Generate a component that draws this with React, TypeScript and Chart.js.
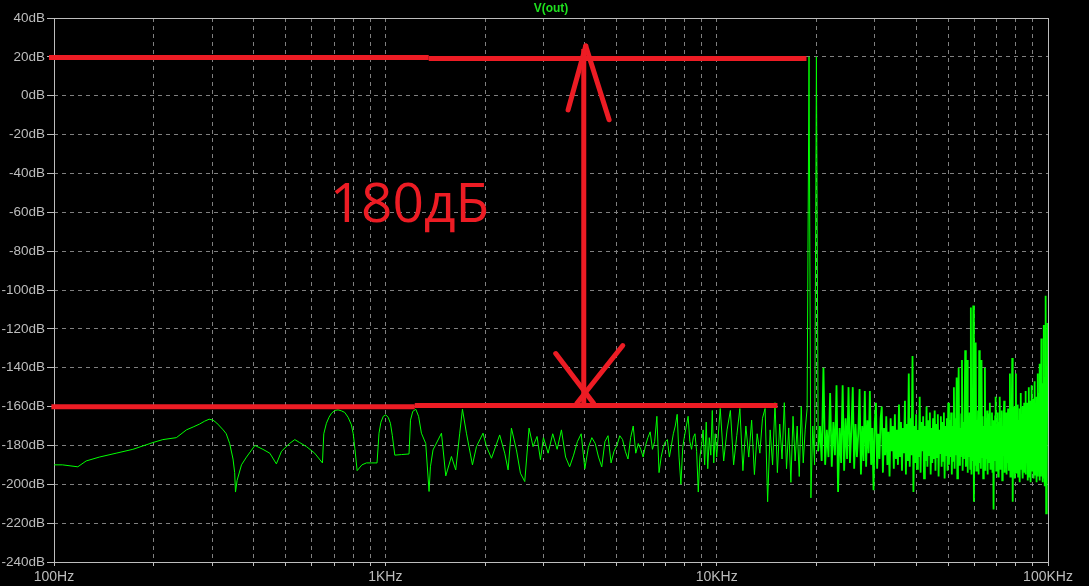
import React, { useEffect, useRef } from 'react';
import { Chart, registerables } from 'chart.js';

Chart.register(...registerables);

// ---------- axis definitions ----------
const xGridHz = [
  100, 200, 300, 400, 500, 600, 700, 800, 900,
  1000, 2000, 3000, 4000, 5000, 6000, 7000, 8000, 9000,
  10000, 20000, 30000, 40000, 50000, 60000, 70000, 80000, 90000,
  100000,
];
const xLabelHz = [100, 1000, 10000, 100000];
const xLabels = ['100Hz', '1KHz', '10KHz', '100KHz'];
const yTickDb = [40, 20, 0, -20, -40, -60, -80, -100, -120, -140, -160, -180, -200, -220, -240];
const TITLE = 'V(out)';

// ---------- V(out) spectrum, low part (traced points) ----------
const lowHz = [
  100, 106, 118, 125, 137, 154, 173, 199, 213, 234, 251, 263, 275, 285, 294, 302, 310, 316, 324, 331,
  339, 347, 351, 353, 357, 368, 381, 404, 427, 448, 469, 486, 514, 533, 551, 578, 612, 646, 652, 664,
  676, 688, 704, 720, 737, 754, 772, 790, 800, 809, 822, 850, 877, 910, 944, 957, 970, 986, 1003, 1020,
  1036, 1050, 1068, 1120, 1179, 1191, 1210, 1236, 1260, 1285, 1324, 1355, 1368, 1393, 1477, 1522, 1583, 1631, 1677, 1709,
  1757, 1832, 1884, 1972, 2020, 2091, 2214, 2293, 2347, 2402, 2487, 2557, 2635, 2715, 2791, 2870, 2939,
];
const lowDb = [
  -190, -190, -191, -188, -186, -184, -182, -178.5, -177, -176, -172, -170.5, -169, -167.5, -166.5, -167, -168.5, -170, -172, -174,
  -179, -187, -194, -204, -198, -190, -186, -180, -182, -184, -189.5, -183, -179, -177, -178.5, -180.6, -184, -189, -174, -168.6,
  -165.5, -163.4, -162, -161.7, -162.2, -163, -165.5, -169.4, -174, -181.4, -193, -190, -189, -189, -189, -173.7, -168, -165, -164.3, -165.5,
  -168.6, -175, -185, -184.7, -184.4, -167, -162.5, -161.4, -165, -173.7, -179, -203.7, -191, -182.3, -173.7, -195.7, -185.7, -192.6, -173.7, -161.4,
  -173.7, -190, -180.6, -173.7, -180.6, -186.6, -174.6, -184, -192.6, -171.1, -182.3, -194.3, -198.6, -171.1, -180.6, -175.4, -187.4,
];

// ---------- FFT bins 3 kHz .. 10 kHz (100 Hz bins) ----------
const MID_START_HZ = 3000;
const MID_STEP_HZ = 100;
const midDb = [
  -176, -184, -174, -182, -172, -186, -191, -185, -178, -174,
  -192, -181, -176, -179, -186, -191, -178, -175, -189, -183,
  -180, -175, -177, -183, -187, -176, -170, -184, -179, -182,
  -186, -180, -176, -173, -182, -178, -165, -194, -186, -181,
  -178, -177, -186, -180, -174, -170, -164, -186, -200, -181,
  -175, -170, -165, -178, -182, -176, -174, -183, -204, -186,
  -180, -172, -190, -168, -192, -176, -185, -162, -189, -174,
  -186,
];

// ---------- FFT bins 10.25 kHz .. 100 kHz (250 Hz bins) ----------
const HF_START_HZ = 10250;
const HF_STEP_HZ = 250;
const DENSE_FROM_HZ = 20250; // from here on the bins are packed below one pixel
const hfDb = [
  -161, -188, -172, -162, -190, -175, -161, -193, -170, -186,
  -167, -195, -174, -184, -166, -161, -209, -172, -190, -158,
  -194, -169, -187, -158, -192, -171, -199, -165, -188, -170,
  -196, -160, -189, -172, -161, 20, -207, -170, -190, 20,
  -183, -170, -188, -140, -190, -172, -186, -153, -191, -168, -185, -149, -204, -171, -189, -149, -193, -166, -187, -150,
  -189, -172, -150, -192, -169, -186, -174, -151, -195, -170, -188, -152, -191, -167, -184, -152, -190, -171, -203, -168,
  -158, -192, -174, -187, -166, -160, -194, -171, -185, -165, -190, -173, -196, -166, -183, -170, -192, -164, -187, -172,
  -190, -159, -186, -168, -193, -171, -184, -157, -195, -169, -188, -143, -191, -166, -185, -134, -204, -170, -189, -164,
  -192, -172, -186, -155, -194, -168, -183, -165, -197, -170, -188, -160, -191, -167, -185, -163, -195, -171, -189, -166,
  -187, -162, -193, -169, -186, -164, -196, -172, -184, -165, -191, -168, -188, -163, -197, -170, -185, -166, -193, -158,
  -190, -167, -186, -163, -195, -170, -188, -150, -192, -166, -185, -145, -197, -168, -140, -190, -171, -186, -164, -136,
  -193, -168, -187, -165, -131, -191, -170, -136, -194, -167, -186, -163, -192, -109, -195, -169, -188, -108, -209, -166,
  -190, -127, -193, -167, -186, -162, -195, -131, -189, -168, -192, -136, -186, -165, -197, -170, -188, -140, -193, -166,
  -187, -162, -195, -168, -189, -164, -158, -192, -170, -186, -163, -194, -167, -213, -171, -188, -165, -155, -193, -169,
  -186, -163, -196, -168, -190, -155, -192, -166, -187, -162, -198, -170, -185, -164, -157, -194, -169, -188, -163, -195,
  -167, -189, -161, -193, -170, -186, -143, -196, -165, -190, -162, -135, -209, -168, -187, -160, -197, -166, -191, -143,
  -194, -164, -188, -159, -196, -167, -186, -161, -199, -169, -153, -192, -165, -189, -160, -197, -168, -187, -158, -194,
  -166, -152, -195, -163, -188, -158, -198, -165, -190, -150, -196, -162, -187, -157, -199, -164, -149, -193, -160, -189,
  -156, -197, -163, -190, -147, -195, -161, -188, -155, -199, -164, -143, -196, -159, -191, -153, -198, -138, -193, -158,
  -196, -125, -194, -152, -199, -148, -195, -118, -197, -150, -201, -145, -196, -103, -215, -146, -198, -140, -117, -158,
];

// ---------- red hand-drawn annotation (Hz / dB) ----------
const markHz = [
  [96.6, 1352], [1352, 18665],     // 20 dB line
  [98.2, 1227], [1227, 15258],     // -160 dB line
  [3971, 3971],                    // vertical arrow shaft
  [3561, 4026], [4026, 4735],      // upper arrow head
  [3268, 4256], [5207, 3781],      // lower arrow head
];
const markDb = [
  [19.7, 19.7], [19.2, 19.2],
  [-160.1, -160.1], [-159.5, -159.5],
  [-160.5, 24],
  [-7.3, 25.6], [25.6, -12.4],
  [-132.7, -158.4], [-128.6, -158.4],
];
const markRound = [false, false, false, false, false, true, true, true, true];
const NOTE_TEXT = '180дБ';
const NOTE_HZ = 679;
const NOTE_DB = -64.8;

const GREEN = '#00ff00';
const RED = '#ed1c24';
const GRID = '#808080';
const FRAME = '#bdbdbd';
const LABEL = '#bdbdbd';
const FONT = "'Liberation Sans', Arial, sans-serif";

export default function App() {
  const ref = useRef<HTMLCanvasElement>(null);

  useEffect(() => {
    document.body.style.margin = '0';
    document.body.style.background = '#000';
    const canvas = ref.current;
    if (!canvas) return;

    const trace: { x: number; y: number }[] = [];
    lowHz.forEach((f, i) => trace.push({ x: f, y: lowDb[i] }));
    midDb.forEach((d, i) => trace.push({ x: MID_START_HZ + i * MID_STEP_HZ, y: d }));
    hfDb.forEach((d, i) => trace.push({ x: HF_START_HZ + i * HF_STEP_HZ, y: d }));
    const sparse = trace.filter((p) => p.x <= DENSE_FROM_HZ);
    const dense = trace.filter((p) => p.x >= DENSE_FROM_HZ);

    const marks = markHz.map((hz, i) => ({
      data: [
        { x: hz[0], y: markDb[i][0] },
        { x: hz[1], y: markDb[i][1] },
      ],
      borderColor: RED,
      backgroundColor: RED,
      borderWidth: 5,
      borderCapStyle: markRound[i] ? 'round' : 'butt',
      pointRadius: 0,
      fill: false,
      clip: false,
      order: 1,
    }));

    const framePlugin = {
      id: 'frame',
      beforeDatasetsDraw(chart: any) {
        const { ctx, chartArea: a } = chart;
        ctx.save();
        ctx.strokeStyle = FRAME;
        ctx.lineWidth = 1;
        ctx.setLineDash([]);
        ctx.strokeRect(a.left + 0.5, a.top + 0.5, a.right - a.left, a.bottom - a.top);
        ctx.restore();
      },
      afterDatasetsDraw(chart: any) {
        const { ctx, chartArea: a, scales } = chart;
        ctx.save();
        ctx.fillStyle = '#1fe01f';
        ctx.font = `bold 12px ${FONT}`;
        ctx.textAlign = 'center';
        ctx.textBaseline = 'middle';
        ctx.fillText(TITLE, (a.left + a.right) / 2, 9);
        ctx.fillStyle = RED;
        ctx.font = `55px 'Open Sans', sans-serif`;
        ctx.textAlign = 'left';
        ctx.textBaseline = 'alphabetic';
        ctx.fillText(NOTE_TEXT, scales.x.getPixelForValue(NOTE_HZ), scales.y.getPixelForValue(NOTE_DB));
        ctx.restore();
      },
    };

    const chart = new Chart(canvas, {
      type: 'line',
      data: {
        datasets: [
          ...marks,
          {
            data: sparse,
            borderColor: GREEN,
            borderWidth: 1,
            pointRadius: 0,
            tension: 0,
            fill: false,
            order: 2,
          },
          {
            data: dense,
            borderColor: GREEN,
            borderWidth: 1.8,
            pointRadius: 0,
            tension: 0,
            fill: false,
            order: 2,
          },
        ] as any,
      },
      options: {
        responsive: false,
        animation: false,
        devicePixelRatio: 1,
        events: [],
        layout: { padding: { top: 18, right: 41, left: 0, bottom: 0 } },
        plugins: {
          legend: { display: false },
          tooltip: { enabled: false },
          title: { display: false },
        },
        scales: {
          x: {
            type: 'logarithmic',
            min: 100,
            max: 100000,
            afterBuildTicks: (s: any) => {
              s.ticks = xGridHz.map((v) => ({ value: v }));
            },
            afterFit: (s: any) => {
              s.height = 24;
            },
            grid: { color: GRID, lineWidth: 1, tickColor: FRAME, tickLength: 4, drawTicks: true },
            border: { display: false, dash: [4, 4] },
            ticks: {
              autoSkip: false,
              maxRotation: 0,
              minRotation: 0,
              padding: 3,
              color: LABEL,
              font: { family: FONT, size: 14 },
              callback: (v: any) => {
                const i = xLabelHz.indexOf(Number(v));
                return i >= 0 ? xLabels[i] : '';
              },
            },
          },
          y: {
            type: 'linear',
            min: -240,
            max: 40,
            afterBuildTicks: (s: any) => {
              s.ticks = yTickDb.map((v) => ({ value: v }));
            },
            afterFit: (s: any) => {
              s.width = 54;
            },
            grid: { color: GRID, lineWidth: 1, tickColor: FRAME, tickLength: 7, drawTicks: true },
            border: { display: false, dash: [4, 4] },
            ticks: {
              padding: 2,
              color: LABEL,
              font: { family: FONT, size: 13.5 },
              callback: (v: any) => `${v}dB`,
            },
          },
        },
      } as any,
      plugins: [framePlugin],
    });

    return () => chart.destroy();
  }, []);

  return (
    <div style={{ position: 'absolute', left: 0, top: 0, width: 1089, height: 586, background: '#000' }}>
      <canvas ref={ref} width={1089} height={586} style={{ display: 'block', width: 1089, height: 586 }} />
    </div>
  );
}
